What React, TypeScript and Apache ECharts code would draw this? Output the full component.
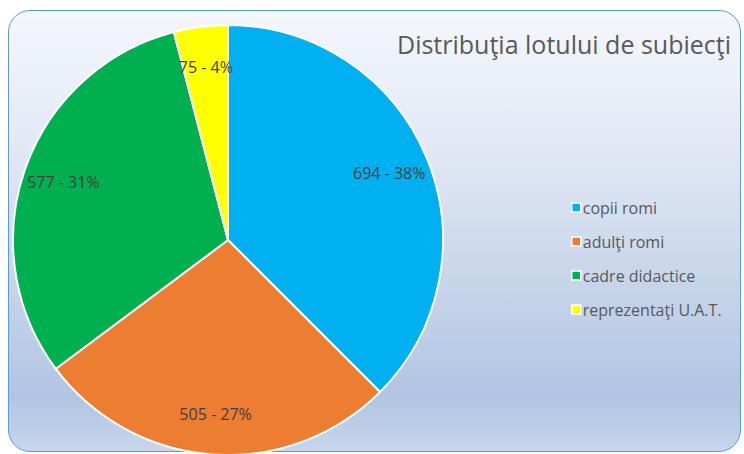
import React, { useEffect, useRef } from "react";
import * as echarts from "echarts";

const categories = ["copii romi", "adulţi romi", "cadre didactice", "reprezentaţi U.A.T."];
const values = [694, 505, 577, 75];
const colors = ["#00B0F0", "#ED7D31", "#00B050", "#FFFF00"];
const titleText = "Distribuţia lotului de subiecţi";

export default function App() {
  const ref = useRef<HTMLDivElement>(null);
  useEffect(() => {
    if (!ref.current) return;
    const chart = echarts.init(ref.current, null, { renderer: "svg" });
    const data = categories.map((name, i) => ({ name, value: values[i], itemStyle: { color: colors[i] } }));
    chart.setOption({
      animation: false,
      title: {
        text: titleText,
        right: 8,
        top: 26,
        textStyle: { fontFamily: "Open Sans", fontSize: 25, fontWeight: "normal", color: "#595959" },
      },
      legend: {
        orient: "vertical",
        left: 566,
        top: 193,
        itemGap: 15,
        itemWidth: 9,
        itemHeight: 9,
        icon: "rect",
        data: categories,
        itemStyle: { borderColor: "#ffffff", borderWidth: 1.5 },
        textStyle: { fontFamily: "Open Sans", fontSize: 16, lineHeight: 19, color: "#595959", padding: [0, 0, 0, -3] },
      },
      series: [
        {
          type: "pie",
          center: [228, 240],
          radius: [0, 215],
          startAngle: 90,
          clockwise: true,
          data,
          label: { show: false },
          labelLine: { show: false },
          itemStyle: { borderColor: "#ffffff", borderWidth: 2 },
          emphasis: { disabled: true },
        },
        {
          type: "pie",
          center: [228, 240],
          radius: [128, 215],
          startAngle: 90,
          clockwise: true,
          silent: true,
          percentPrecision: 0,
          data: categories.map((name, i) => ({ name, value: values[i] })),
          itemStyle: { color: "rgba(0,0,0,0)", borderWidth: 0 },
          label: {
            show: true,
            position: "inside",
            formatter: "{c} - {d}%",
            fontFamily: "Open Sans",
            fontSize: 16,
            color: "#404040",
          },
          labelLine: { show: false },
          emphasis: { disabled: true },
        },
      ],
    });
    return () => chart.dispose();
  }, []);
  return (
    <div style={{ position: "fixed", left: 0, top: 0, width: 744, height: 454, background: "#ffffff" }}>
      <div
        style={{
          position: "absolute",
          left: 8,
          top: 10,
          width: 731,
          height: 440,
          border: "1.5px solid #5B9BD5",
          borderRadius: 22,
          background: "linear-gradient(to bottom, #F4F7FC 0%, #E2E9F5 30%, #C4D3E9 65%, #B1C5E2 88%, #C6D6EC 100%)",
        }}
      />
      <div ref={ref} style={{ position: "absolute", left: 0, top: 0, width: 744, height: 454 }} />
    </div>
  );
}
